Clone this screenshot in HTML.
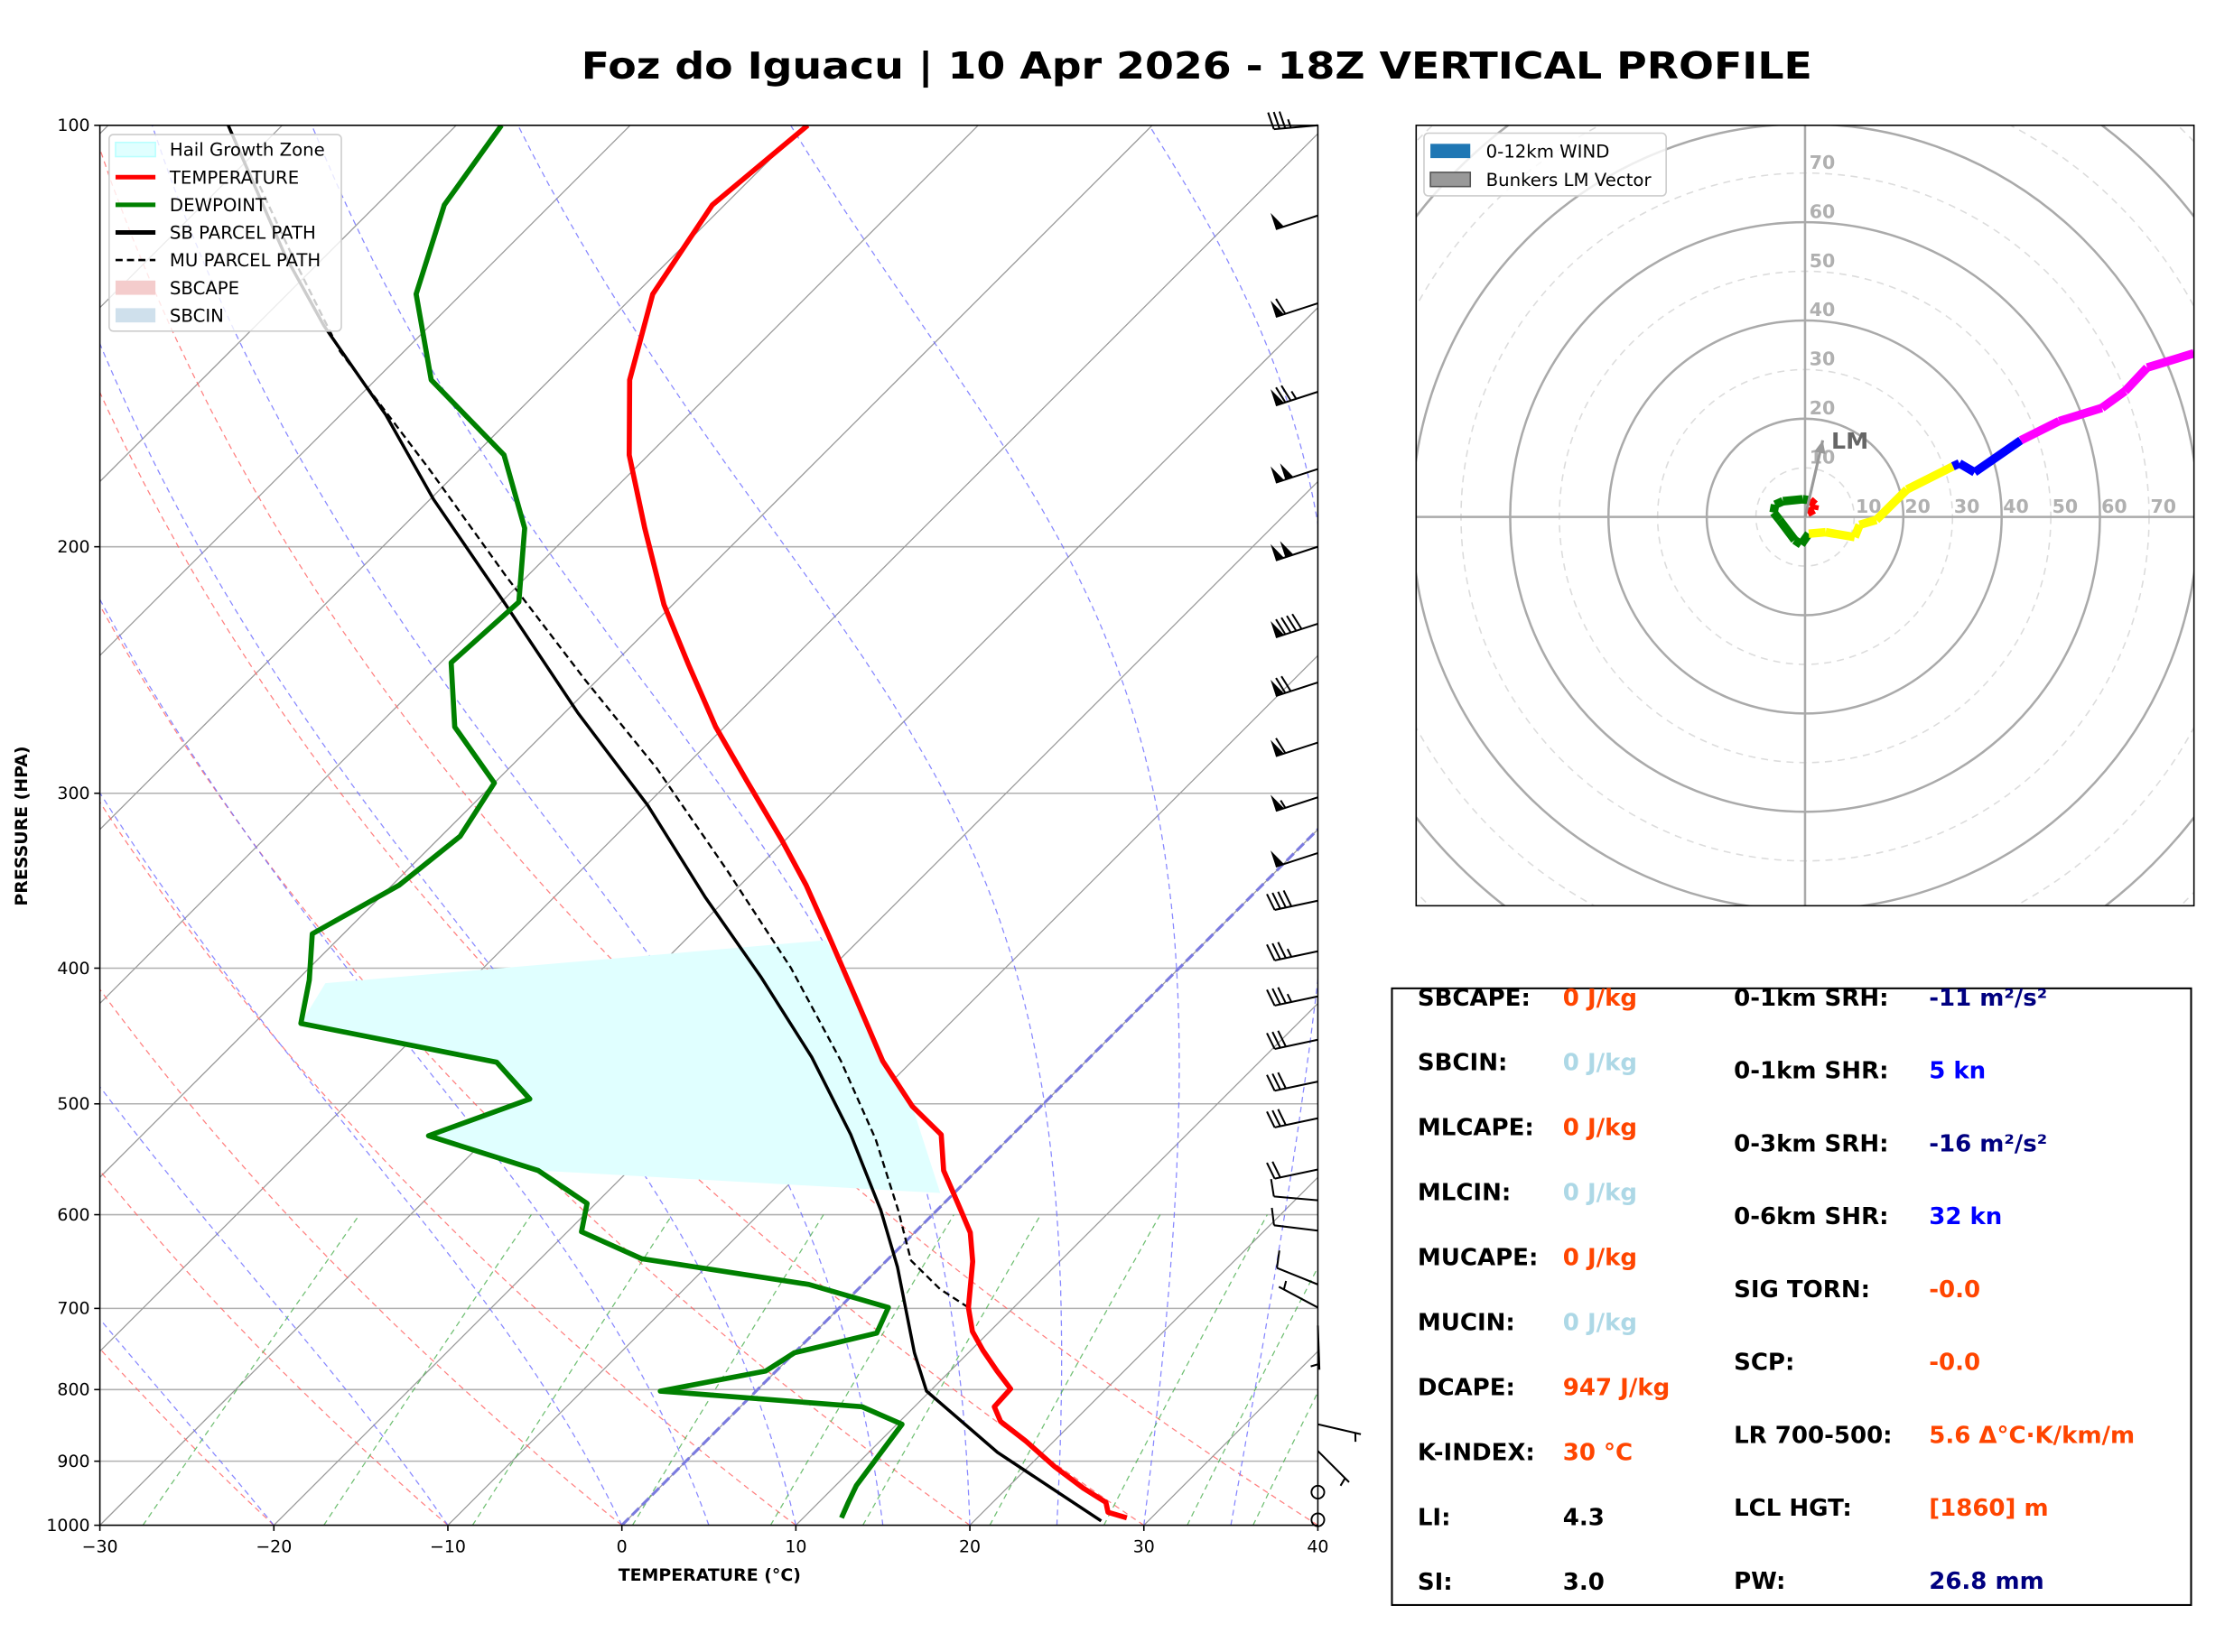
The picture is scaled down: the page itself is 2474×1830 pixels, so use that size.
<!DOCTYPE html>
<html><head><meta charset="utf-8"><style>html,body{margin:0;padding:0;background:#fff}svg{display:block}</style></head>
<body>
<svg id="fig" xmlns="http://www.w3.org/2000/svg" width="2474" height="1830" viewBox="0 0 1568 1160" font-family="'DejaVu Sans','Liberation Sans',sans-serif">
<rect width="1568" height="1160" fill="#fff"/>
<text x="840" y="55" text-anchor="middle" font-size="26" font-weight="bold" textLength="864" lengthAdjust="spacingAndGlyphs">Foz do Iguacu | 10 Apr 2026 - 18Z VERTICAL PROFILE</text>
<defs>
<clipPath id="skc"><rect x="70" y="88" width="855" height="983"/></clipPath>
<clipPath id="hoc"><rect x="994" y="88" width="546" height="548"/></clipPath>
</defs>
<g id="skew"></g>
<g id="hodo"></g>
<g id="stats">
<rect x="977" y="694" width="561" height="433" fill="none" stroke="#000" stroke-width="1.3"/>
</g>
</svg>
<script>
// ===== Data =====
const tempP=[988,979,963,941,908,871,843,823,799,776,750,727,699,648,618,596,558,526,502,466,419,380,349,324,294,269,243,220,194,172,152,132,114,100];
const tempT=[28.6,27.2,26.5,24.4,21.5,18.4,15.8,14.6,14.5,12.7,10.7,9.0,7.4,5.0,3.2,1.4,-1.9,-4.1,-7.4,-11.7,-17.0,-21.9,-26.2,-30.2,-35.6,-40.5,-45.6,-50.5,-56.0,-61.1,-65.4,-69.0,-70.7,-69.8];
const dewP=[988,963,937,847,823,802,776,753,729,699,673,645,617,589,558,527,496,467,438,408,378,349,322,295,269,242,219,194,172,152,132,114,100];
const dewT=[12.2,11.7,11.2,10.3,7.0,-5.5,-0.6,0.0,3.6,2.8,-3.1,-14.2,-19.2,-20.5,-25.2,-33.5,-29.8,-33.8,-47.3,-49.3,-51.8,-49.6,-48.9,-50.0,-55.5,-59.4,-59.0,-62.9,-68.3,-76.8,-82.6,-86.1,-87.4];
const sbP=[993,887,802,753,654,596,526,463,406,356,306,263,220,185,161,139,124,100];
const sbT=[27.3,17.4,9.8,6.9,1.0,-3.2,-9.3,-16.0,-23.5,-31.3,-39.9,-49.2,-59.6,-69.8,-77.4,-86.1,-92.3,-103.1];
const muP=[699,678,647,596,530,466,400,340,288,249,210,176,145,124,109];
const muT=[7.4,4.7,1.4,-2.2,-7.6,-14.1,-22.3,-31.7,-41.5,-50.7,-61.2,-71.8,-83.7,-91.9,-98.5];
const hailP=[410,382,419,466,502,579,558,527,496,467,438,410];
const hailT=[-48.2,-21.9,-17.0,-11.7,-7.4,-0.8,-25.2,-33.5,-29.8,-33.8,-47.3,-48.2];
const windP=[100,116,134,155,176,200,227,250,276,302,331,358,389,419,450,482,512,557,586,616,673,699,720,847,885,947,991];
const windDir=[265,252,252,252,252,252,252,252,252,252,252,258,258,258,258,258,258,258,275,277,292,298,178,103,135,0,0];
const windSpd=[35,50,60,75,100,100,90,70,60,55,50,40,35,35,30,30,30,20,10,10,10,5,5,5,5,0,0];
const pTicks=[100,200,300,400,500,600,700,800,900,1000];
const tTicks=[-30,-20,-10,0,10,20,30,40];
const hodoU=[0.5,1.8,2,1,-0.5,-4.5,-6.1,-6.4,-5.2,-2.1,-0.8,0.75,4.2,10.1,11.1,14.5,20.75,30.1,31.4,34.5,43.9,51.7,60.4,65.1,69.6,79.1];
const hodoV=[0.8,1.5,2.5,3.4,3.6,3.2,2.5,0.9,-0.6,-4.7,-5.6,-3.4,-3.1,-4.1,-1.6,-0.6,5.6,10.3,10.9,9.1,15.6,19.5,22.2,25.6,30.4,33.3];
const hodoSeg=[0,0,0,0,1,1,1,1,1,1,1,1,2,2,2,2,2,2,3,3,3,4,4,4,4,4];
const segColors=['red','green','yellow','blue','magenta'];
const lmU=3.6, lmV=15.6;
const ringLabels=[10,20,30,40,50,60,70];
const statLeftLabels=['SBCAPE:','SBCIN:','MLCAPE:','MLCIN:','MUCAPE:','MUCIN:','DCAPE:','K-INDEX:','LI:','SI:'];
const statLeftVals=['0 J/kg','0 J/kg','0 J/kg','0 J/kg','0 J/kg','0 J/kg','947 J/kg','30 °C','4.3','3.0'];
const statLeftCols=['#ff4500','#add8e6','#ff4500','#add8e6','#ff4500','#add8e6','#ff4500','#ff4500','#000','#000'];
const statRightLabels=['0-1km SRH:','0-1km SHR:','0-3km SRH:','0-6km SHR:','SIG TORN:','SCP:','LR 700-500:','LCL HGT:','PW:'];
const statRightVals=['-11 m²/s²','5 kn','-16 m²/s²','32 kn','-0.0','-0.0','5.6 Δ°C·K/km/m','[1860] m','26.8 mm'];
const statRightCols=['#000080','#0000ff','#000080','#0000ff','#ff4500','#ff4500','#ff4500','#ff4500','#000080'];

// ===== Axes =====
const NS='http://www.w3.org/2000/svg';
const L=70,R=925,T0=88,B=1071;
function yP(p){return B-Math.log10(1000/p)*(B-T0);}
function xT(t,p){return L+(t+30)*(R-L)/70+(B-yP(p));}
function el(tag,attrs,parent){const e=document.createElementNS(NS,tag);for(const k in attrs)e.setAttribute(k,attrs[k]);parent.appendChild(e);return e;}
const skew=document.getElementById('skew');
const clipG=el('g',{'clip-path':'url(#skc)'},skew);


function pathPT(ps,ts){return ps.map((p,i)=>(i?'L':'M')+xT(ts[i],p).toFixed(1)+' '+yP(p).toFixed(1)).join('');}
const plevs=[];for(let p=1000;p>=100;p-=10)plevs.push(p);
// isobars
pTicks.forEach(p=>{const l=el('line',{x1:L,x2:R,y1:yP(p),y2:yP(p),stroke:'#b0b0b0','stroke-width':1},clipG);

});
// isotherms
for(let t=-150;t<=40;t+=10){const l=el('line',{x1:xT(t,1000),y1:yP(1000),x2:xT(t,100),y2:yP(100),stroke:'#999','stroke-width':0.8},clipG);

}
// dry adiabats
for(let th=213.15;th<=313.2;th+=10){const ts=plevs.map(p=>th*Math.pow(p/1000,0.2857)-273.15);
const l=el('path',{d:pathPT(plevs,ts),fill:'none',stroke:'#ff6060','stroke-width':0.8,'stroke-dasharray':'4 3',opacity:0.8},clipG);

}
// moist adiabats
function es(t){return 6.112*Math.exp(17.67*t/(t+243.5));}
[-40,-30,-20,-10,0,5,10,15,20,25,30,35,40,45].forEach(t0=>{let t=t0+273.15;const ps=[],ts=[];
for(let p=1000;p>=100;p-=5){ps.push(p);ts.push(t-273.15);const e=es(t-273.15);const rs=0.622*e/(p-e);
const dtdp=(287*t+2.5e6*rs)/(1004+2.5e6*2.5e6*rs*0.622/(287*t*t))/p;t-=dtdp*5;}
const l=el('path',{d:pathPT(ps,ts),fill:'none',stroke:'#6a6aff','stroke-width':0.8,'stroke-dasharray':'4 3',opacity:0.8},clipG);

});
// mixing ratio
[0.4,1,2,4,7,10,16,24,32,40].forEach(w=>{const ps=[],ts=[];for(let p=1000;p>=600;p-=20){const e=w/1000*p/(0.622+w/1000);const lg=Math.log(e/6.112);ps.push(p);ts.push(243.5*lg/(17.67-lg));}
const l=el('path',{d:pathPT(ps,ts),fill:'none',stroke:'#4caf50','stroke-width':0.8,'stroke-dasharray':'4 3',opacity:0.8},clipG);

});
// 0C isotherm
const zi=el('line',{x1:xT(0,1000),y1:yP(1000),x2:xT(0,100),y2:yP(100),stroke:'#7b7bdf','stroke-width':2,'stroke-dasharray':'7 3'},clipG);


// hail zone
const hz=el('path',{d:pathPT(hailP,hailT)+'Z',fill:'#e0ffff',stroke:'none'},clipG);


// profiles
const sb=el('path',{d:pathPT(sbP,sbT),fill:'none',stroke:'#000','stroke-width':2.2},clipG);


const mu=el('path',{d:pathPT(muP,muT),fill:'none',stroke:'#000','stroke-width':1.5,'stroke-dasharray':'5 3'},clipG);


const dw=el('path',{d:pathPT(dewP,dewT),fill:'none',stroke:'#008000','stroke-width':3.6,'stroke-linejoin':'round'},clipG);


const tl=el('path',{d:pathPT(tempP,tempT),fill:'none',stroke:'#ff0000','stroke-width':3.6,'stroke-linejoin':'round'},clipG);


// frame
const fr=el('rect',{x:L,y:T0,width:R-L,height:B-T0,fill:'none',stroke:'#000','stroke-width':1},skew);


// ticks
pTicks.forEach(p=>{el('line',{x1:L-4,x2:L,y1:yP(p),y2:yP(p),stroke:'#000'},skew);
const t=el('text',{x:L-7,y:yP(p)+4,'text-anchor':'end','font-size':12},skew);t.textContent=p;

});
tTicks.forEach(v=>{const x=L+(v+30)*(R-L)/70;el('line',{x1:x,x2:x,y1:B,y2:B+4,stroke:'#000'},skew);
const t=el('text',{x:x,y:B+19,'text-anchor':'middle','font-size':12},skew);t.textContent=(v<0?'\u2212'+(-v):v);

});
const xl=el('text',{x:498,y:1110,'text-anchor':'middle','font-size':12,'font-weight':'bold'},skew);xl.textContent='TEMPERATURE (°C)';


const yl=el('text',{x:0,y:0,'text-anchor':'middle','font-size':12,'font-weight':'bold',transform:'translate(19,580) rotate(-90)'},skew);yl.textContent='PRESSURE (HPA)';


// wind barbs
windP.forEach((p,i)=>{const sx=R,sy=yP(p),spd=windSpd[i];const g=el('g',{},skew);


if(spd<2.5){el('circle',{cx:sx,cy:sy,r:4.5,fill:'none',stroke:'#000','stroke-width':1.2},g);return;}
const a=windDir[i]*Math.PI/180;const ux=Math.sin(a),uy=-Math.cos(a);const Ls=31;
const ex=sx+ux*Ls,ey=sy+uy*Ls;el('line',{x1:sx,y1:sy,x2:ex,y2:ey,stroke:'#000','stroke-width':1.3},g);
const px=-uy,py=ux;let s=Math.round(spd/5)*5,pos=0;const bl=12,sp=4;
while(s>=50){const x0=ex-ux*pos,y0=ey-uy*pos,x1=ex-ux*(pos+6),y1=ey-uy*(pos+6);
el('path',{d:`M${x0} ${y0}L${x0+px*bl} ${y0+py*bl}L${x1} ${y1}Z`,fill:'#000'},g);pos+=7;s-=50;}
while(s>=10){const x0=ex-ux*pos,y0=ey-uy*pos;el('line',{x1:x0,y1:y0,x2:x0+px*bl+ux*3,y2:y0+py*bl+uy*3,stroke:'#000','stroke-width':1.3},g);pos+=sp;s-=10;}
if(s>=5){if(pos===0)pos=sp;const x0=ex-ux*pos,y0=ey-uy*pos;el('line',{x1:x0,y1:y0,x2:x0+px*bl/2+ux*1.5,y2:y0+py*bl/2+uy*1.5,stroke:'#000','stroke-width':1.3},g);}
});
// legend
const lg=el('g',{},skew);
el('rect',{x:76.5,y:94.5,width:163,height:138,rx:3,fill:'#fff','fill-opacity':0.8,stroke:'#ccc','stroke-width':1},lg);
const leg=[['Hail Growth Zone','patch','#e0ffff','#b8ffff'],['TEMPERATURE','line','#ff0000'],['DEWPOINT','line','#008000'],['SB PARCEL PATH','line','#000'],['MU PARCEL PATH','dash','#000'],['SBCAPE','patch','#f4cccc','none'],['SBCIN','patch','#cfe0ec','none']];
leg.forEach((e,i)=>{const y=105+i*19.4;const g=el('g',{},lg);


if(e[1]==='patch')el('rect',{x:81,y:y-5,width:28,height:10,fill:e[2],stroke:e[3]},g);
else el('line',{x1:81,x2:109,y1:y,y2:y,stroke:e[2],'stroke-width':e[1]==='dash'?1.6:3.2,'stroke-dasharray':e[1]==='dash'?'5 3':''},g);
const t=el('text',{x:119,y:y+4.5,'font-size':12.5},g);t.textContent=e[0];});

// ===== Hodograph =====
const hodo=document.getElementById('hodo');const CX=1267,CY=363,SC=3.45;
function hx(u){return CX+u*SC;}function hy(v){return CY-v*SC;}
const hg=el('g',{'clip-path':'url(#hoc)'},hodo);


for(let r=10;r<=120;r+=10){const c=el('circle',{cx:CX,cy:CY,r:r*SC,fill:'none',stroke:r%20?'#dcdcdc':'#aaa','stroke-width':r%20?1:1.6,'stroke-dasharray':r%20?'5 4':''},hg);

}
el('line',{x1:994,x2:1540,y1:CY,y2:CY,stroke:'#aaa','stroke-width':1.6},hg);
el('line',{x1:CX,x2:CX,y1:88,y2:636,stroke:'#aaa','stroke-width':1.6},hg);
ringLabels.forEach(r=>{let t=el('text',{x:hx(r)+1,y:CY-3,'font-size':13,'font-weight':'bold',fill:'#b0b0b0'},hg);t.textContent=r;


t=el('text',{x:CX+3,y:hy(r)-3,'font-size':13,'font-weight':'bold',fill:'#b0b0b0'},hg);t.textContent=r;

});
for(let i=1;i<hodoU.length;i++){const s=el('line',{x1:hx(hodoU[i-1]),y1:hy(hodoV[i-1]),x2:hx(hodoU[i]),y2:hy(hodoV[i]),stroke:segColors[hodoSeg[i]],'stroke-width':6,'stroke-linecap':'butt'},hg);

}
const lm=el('g',{},hg);
const ang=Math.atan2(hy(lmV)-CY,hx(lmU)-CX);
el('line',{x1:CX,y1:CY,x2:hx(lmU),y2:hy(lmV),stroke:'#999','stroke-width':2},lm);
const ax=hx(lmU),ay=hy(lmV);
el('path',{d:`M${ax} ${ay}L${ax-9*Math.cos(ang)+4*Math.sin(ang)} ${ay-9*Math.sin(ang)-4*Math.cos(ang)}L${ax-9*Math.cos(ang)-4*Math.sin(ang)} ${ay-9*Math.sin(ang)+4*Math.cos(ang)}Z`,fill:'#999'},lm);
const lt=el('text',{x:ax+6,y:ay+6,'font-size':16,'font-weight':'bold',fill:'#666'},lm);lt.textContent='LM';
const hf=el('rect',{x:994,y:88,width:546,height:548,fill:'none',stroke:'#000','stroke-width':1},hodo);


const hl=el('g',{},hodo);
el('rect',{x:999.5,y:93.5,width:170,height:44,rx:3,fill:'#fff','fill-opacity':0.8,stroke:'#ccc'},hl);
el('rect',{x:1004,y:101,width:28,height:10,fill:'#1f77b4'},hl);
el('rect',{x:1004,y:121,width:28,height:10,fill:'#999',stroke:'#555'},hl);
let t1=el('text',{x:1043,y:110.5,'font-size':12.5},hl);t1.textContent='0-12km WIND';


t1=el('text',{x:1043,y:130.5,'font-size':12.5},hl);t1.textContent='Bunkers LM Vector';



// ===== Stats =====
const st=document.getElementById('stats');
statLeftLabels.forEach((lab,i)=>{const y=706+i*45.6;
let t=el('text',{x:995,y:y,'font-size':16.5,'font-weight':'bold'},st);t.textContent=lab;


t=el('text',{x:1097,y:y,'font-size':16.5,'font-weight':'bold',fill:statLeftCols[i]},st);t.textContent=statLeftVals[i];

});
statRightLabels.forEach((lab,i)=>{const y=706+i*51.2;
let t=el('text',{x:1217,y:y,'font-size':16.5,'font-weight':'bold'},st);t.textContent=lab;


t=el('text',{x:1354,y:y,'font-size':16.5,'font-weight':'bold',fill:statRightCols[i]},st);t.textContent=statRightVals[i];

});
</script>
</body></html>
